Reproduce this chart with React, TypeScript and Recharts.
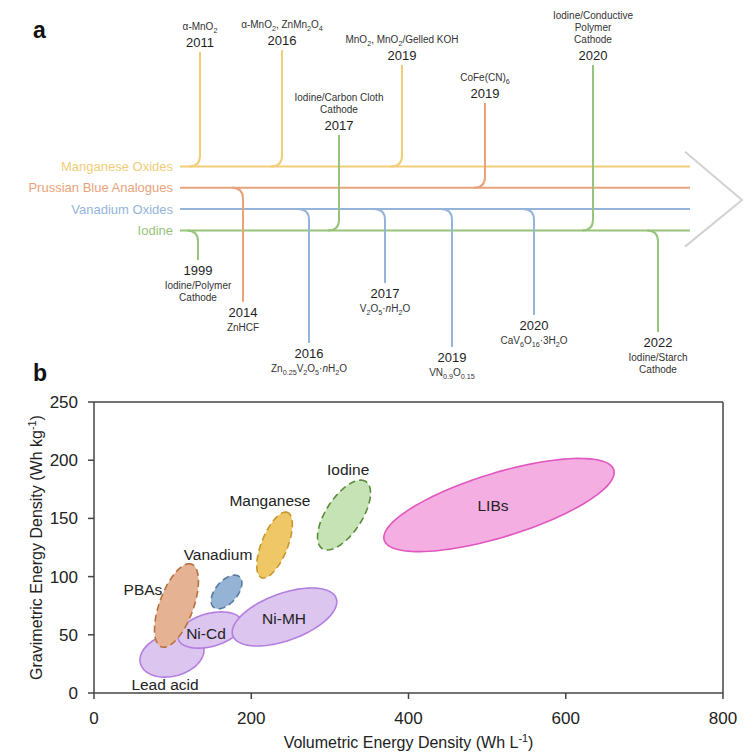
import React from 'react';
import { ScatterChart, Scatter, XAxis, YAxis, ReferenceLine } from 'recharts';

const FONT = '"Liberation Sans", Arial, Helvetica, sans-serif';

// ================= Panel a: development timeline =================
const laneNames = ['Manganese Oxides', 'Prussian Blue Analogues', 'Vanadium Oxides', 'Iodine'];
const laneLevels = [3, 2, 1, 0];
const laneColors = ['#f2cd77', '#e8a37b', '#95b4da', '#97c47b'];
const laneSpan = [180, 690];
const arrowX = [685, 742, 685];
const arrowY = [3.69, 1.42, -0.76];

const eventLane = [0, 0, 0, 1, 1, 2, 2, 2, 2, 3, 3, 3, 3];
const eventYears = ['2011', '2016', '2019', '2014', '2019', '2016', '2017', '2019', '2020', '1999', '2017', '2020', '2022'];
const eventPos = [200, 282, 402, 243, 485, 309, 385, 452, 534, 198, 339, 593, 658];
const eventReach = [8.36, 8.46, 7.75, -3.35, 5.97, -5.28, -2.47, -5.47, -3.97, -1.39, 4.47, 7.75, -4.76];
const eventNotes: string[][] = [
  ['α-MnO_{2}'],
  ['α-MnO_{2}, ZnMn_{2}O_{4}'],
  ['MnO_{2}, MnO_{2}/Gelled KOH'],
  ['ZnHCF'],
  ['CoFe(CN)_{6}'],
  ['Zn_{0.25}V_{2}O_{5}·~{n}H_{2}O'],
  ['V_{2}O_{5}·~{n}H_{2}O'],
  ['VN_{0.9}O_{0.15}'],
  ['CaV_{6}O_{16}·3H_{2}O'],
  ['Iodine/Polymer', 'Cathode'],
  ['Iodine/Carbon Cloth', 'Cathode'],
  ['Iodine/Conductive', 'Polymer', 'Cathode'],
  ['Iodine/Starch', 'Cathode'],
];
const cornerRun = 11;

// ================= Panel b: energy density map =================
const chemistries = ['Lead acid', 'Ni-Cd', 'Ni-MH', 'PBAs', 'Vanadium', 'Manganese', 'Iodine', 'LIBs'];
const centerVol = [99.2, 147.5, 242.3, 104.9, 168.5, 229.6, 318.0, 515.1];
const centerGrav = [32.6, 54.1, 65.3, 75.2, 86.8, 127.1, 152.9, 161.5];
const majorVol = [139.3, 188.1, 308.0, 124.1, 184.9, 246.2, 345.7, 661.1];
const majorGrav = [39.9, 61.5, 81.4, 110.7, 99.9, 155.1, 181.7, 191.7];
const minorVol = [92.3, 142.1, 232.1, 84.6, 157.8, 214.2, 298.8, 503.2];
const minorGrav = [50.1, 67.8, 84.3, 80.2, 92.9, 131.3, 161.3, 187.8];
const labelVol = [90.3, 142.4, 241.7, 62.3, 157.7, 223.8, 323.3, 507.5];
const labelGrav = [7.7, 50.7, 63.6, 89.3, 118.6, 165.0, 191.6, 160.7];
const ellipseFill = ['#dcc5ef', '#dcc5ef', '#dcc5ef', '#e5b393', '#95b3d4', '#efc766', '#c6e3b6', '#f5aee2'];
const ellipseStroke = ['#b47de0', '#b47de0', '#b47de0', '#b5713f', '#57799f', '#c6972a', '#5a8b3e', '#df57bf'];
const ellipseDashed = [false, false, false, true, true, true, true, false];
const xTicks = [0, 200, 400, 600, 800];
const yTicks = [0, 50, 100, 150, 200, 250];

// ---------- helpers ----------
function richParts(s: string, size: number) {
  const parts = s.split(/(_\{[^}]*\}|\^\{[^}]*\}|~\{[^}]*\})/).filter((p) => p.length > 0);
  let shift = 0;
  return parts.map((part, i) => {
    let target = 0;
    let text = part;
    let fs: number | undefined;
    let italic = false;
    if (part.startsWith('_{')) {
      target = size * 0.28;
      fs = size * 0.72;
      text = part.slice(2, -1);
    } else if (part.startsWith('^{')) {
      target = -size * 0.4;
      fs = size * 0.68;
      text = part.slice(2, -1);
    } else if (part.startsWith('~{')) {
      italic = true;
      text = part.slice(2, -1);
    }
    const dy = target - shift;
    shift = target;
    return (
      <tspan key={i} dy={dy !== 0 ? dy : undefined} fontSize={fs} fontStyle={italic ? 'italic' : undefined}>
        {text}
      </tspan>
    );
  });
}

const Empty = () => <g />;

function ellipsePath(pts: any[]) {
  const [c, m, n] = pts;
  const ux = m.x - c.x;
  const uy = m.y - c.y;
  const wx = n.x - c.x;
  const wy = n.y - c.y;
  const steps = 120;
  let d = '';
  for (let i = 0; i <= steps; i++) {
    const t = (i / steps) * Math.PI * 2;
    const px = c.x + Math.cos(t) * ux + Math.sin(t) * wx;
    const py = c.y + Math.cos(t) * uy + Math.sin(t) * wy;
    d += (i === 0 ? 'M' : 'L') + px.toFixed(2) + ',' + py.toFixed(2);
  }
  return d + 'Z';
}

// ---------- panel a ----------
function TimelineChart() {
  const arrowData = arrowX.map((x, i) => ({ x, y: arrowY[i] }));
  return (
    <ScatterChart width={753} height={384} margin={{ top: 0, right: 0, bottom: 0, left: 0 }}>
      <XAxis type="number" dataKey="x" domain={[0, 753]} hide />
      <YAxis type="number" dataKey="y" domain={[-7.2, 10.8]} hide />
      <Scatter
        data={arrowData}
        fill="#d2d2d2"
        line={{ stroke: '#d2d2d2', strokeWidth: 2 }}
        lineType="joint"
        shape={Empty}
        isAnimationActive={false}
      />
      {laneNames.map((name, i) => (
        <Scatter
          key={'lane-' + name}
          data={[
            { x: laneSpan[0], y: laneLevels[i], name },
            { x: laneSpan[1], y: laneLevels[i] },
          ]}
          fill={laneColors[i]}
          line={{ stroke: laneColors[i], strokeWidth: 2 }}
          lineType="joint"
          isAnimationActive={false}
          shape={(p: any) =>
            p.payload && p.payload.name ? (
              <text
                x={p.cx - 7}
                y={p.cy}
                textAnchor="end"
                dominantBaseline="central"
                fontSize={13}
                fontFamily={FONT}
                fill={laneColors[i]}
              >
                {p.payload.name}
              </text>
            ) : (
              <g />
            )
          }
        />
      ))}
      {eventYears.map((year, k) => {
        const lane = eventLane[k];
        const color = laneColors[lane];
        const data = [
          { x: eventPos[k] - cornerRun, y: laneLevels[lane] },
          { x: eventPos[k], y: eventReach[k], year, notes: eventNotes[k] },
        ];
        return (
          <Scatter
            key={'ev-' + k}
            data={data}
            fill={color}
            isAnimationActive={false}
            line={(lp: any) => {
              const pts = lp.points || [];
              if (pts.length < 2) return <g />;
              const a = pts[0];
              const b = pts[1];
              const r = b.x - a.x;
              const s = b.y < a.y ? -1 : 1;
              const d = `M${a.x},${a.y} Q${b.x},${a.y} ${b.x},${a.y + s * r} L${b.x},${b.y}`;
              return <path d={d} fill="none" stroke={color} strokeWidth={2} />;
            }}
            shape={(p: any) => {
              const pl = p.payload;
              if (!pl || !pl.year) return <g />;
              const up = pl.y > laneLevels[lane];
              const notes: string[] = pl.notes;
              const n = notes.length;
              const yearBase = up ? p.cy - 5 : p.cy + 15;
              return (
                <g fontFamily={FONT}>
                  <text x={p.cx} y={yearBase} textAnchor="middle" fontSize={13} fill="#1e1e1e">
                    {pl.year}
                  </text>
                  {notes.map((line, i) => {
                    const base = up ? yearBase - 17 - (n - 1 - i) * 12 : yearBase + 14 + i * 12;
                    return (
                      <text key={i} x={p.cx} y={base} textAnchor="middle" fontSize={10} fill="#333">
                        {richParts(line, 10)}
                      </text>
                    );
                  })}
                </g>
              );
            }}
          />
        );
      })}
    </ScatterChart>
  );
}

// ---------- panel b ----------
function XTitle(props: any) {
  const vb = props && props.viewBox && props.viewBox.width ? props.viewBox : { x: 94, y: 693, width: 629, height: 30 };
  return (
    <text x={vb.x + vb.width / 2} y={vb.y + 55} textAnchor="middle" fontSize={16} fontFamily={FONT} fill="#222">
      {richParts('Volumetric Energy Density (Wh L^{-1})', 16)}
    </text>
  );
}

function YTitle(props: any) {
  const vb = props && props.viewBox && props.viewBox.height ? props.viewBox : { x: 44, y: 402, width: 50, height: 291 };
  const x = vb.x - 2;
  const y = vb.y + vb.height / 2;
  return (
    <text
      x={x}
      y={y}
      transform={`rotate(-90, ${x}, ${y})`}
      textAnchor="middle"
      fontSize={16}
      fontFamily={FONT}
      fill="#222"
    >
      {richParts('Gravimetric Energy Density (Wh kg^{-1})', 16)}
    </text>
  );
}

function DensityChart() {
  const labelData = chemistries.map((name, i) => ({ x: labelVol[i], y: labelGrav[i], name }));
  const axisColor = '#444';
  return (
    <ScatterChart width={753} height={373} margin={{ top: 22, right: 30, bottom: 30, left: 44 }}>
      <XAxis
        type="number"
        dataKey="x"
        domain={[0, 800]}
        ticks={xTicks}
        interval={0}
        height={30}
        tickSize={6}
        tickMargin={13}
        stroke={axisColor}
        axisLine={{ strokeWidth: 1.5 }}
        tickLine={{ strokeWidth: 1.5 }}
        tick={{ fill: '#222', fontSize: 17, fontFamily: FONT }}
        label={<XTitle />}
      />
      <YAxis
        type="number"
        dataKey="y"
        domain={[0, 250]}
        ticks={yTicks}
        interval={0}
        width={50}
        tickSize={6}
        tickMargin={10}
        stroke={axisColor}
        axisLine={{ strokeWidth: 1.5 }}
        tickLine={{ strokeWidth: 1.5 }}
        tick={{ fill: '#222', fontSize: 17, fontFamily: FONT }}
        label={<YTitle />}
      />
      <ReferenceLine y={250} stroke={axisColor} strokeWidth={1.5} />
      <ReferenceLine x={800} stroke={axisColor} strokeWidth={1.5} />
      {chemistries.map((name, i) => (
        <Scatter
          key={'ell-' + name}
          data={[
            { x: centerVol[i], y: centerGrav[i] },
            { x: majorVol[i], y: majorGrav[i] },
            { x: minorVol[i], y: minorGrav[i] },
          ]}
          fill={ellipseFill[i]}
          isAnimationActive={false}
          shape={Empty}
          line={(lp: any) => {
            const pts = lp.points || [];
            if (pts.length < 3) return <g />;
            return (
              <path
                d={ellipsePath(pts)}
                fill={ellipseFill[i]}
                stroke={ellipseStroke[i]}
                strokeWidth={1.6}
                strokeDasharray={ellipseDashed[i] ? '7 4' : undefined}
              />
            );
          }}
        />
      ))}
      <Scatter
        data={labelData}
        isAnimationActive={false}
        shape={(p: any) => (
          <text
            x={p.cx}
            y={p.cy}
            textAnchor="middle"
            dominantBaseline="central"
            fontSize={15.5}
            fontFamily={FONT}
            fill="#222"
          >
            {p.payload.name}
          </text>
        )}
      />
    </ScatterChart>
  );
}

export default function App() {
  const panelLabel: React.CSSProperties = {
    position: 'absolute',
    left: 33,
    fontSize: 23,
    fontWeight: 'bold',
    lineHeight: '23px',
    fontFamily: FONT,
    color: '#111',
  };
  return (
    <div style={{ position: 'absolute', left: 0, top: 0, width: 753, height: 753, background: '#fff' }}>
      <div style={{ position: 'absolute', left: 0, top: 0 }}>
        <TimelineChart />
      </div>
      <div style={{ position: 'absolute', left: 0, top: 380 }}>
        <DensityChart />
      </div>
      <div style={{ ...panelLabel, top: 19 }}>a</div>
      <div style={{ ...panelLabel, top: 362 }}>b</div>
    </div>
  );
}
